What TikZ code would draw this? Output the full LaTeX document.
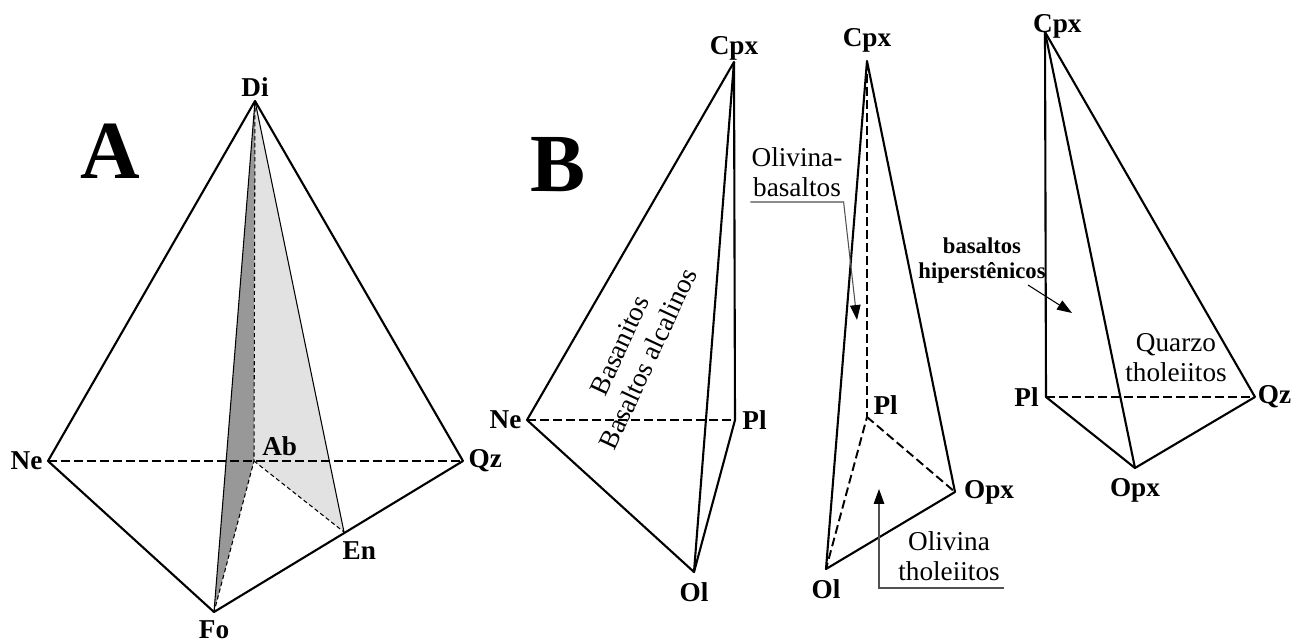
\documentclass[tikz,border=0pt]{standalone}
\usepackage{fontspec}
\setmainfont{Liberation Serif}
\usetikzlibrary{arrows.meta,positioning}
\definecolor{facedark}{HTML}{989898}
\definecolor{facelight}{HTML}{E2E2E2}
\definecolor{leadgrey}{HTML}{505050}

\begin{document}
\begin{tikzpicture}[
  x=0.02cm, y=-0.02cm,
  vlabel/.style={font=\fontsize{15.5}{17}\selectfont\bfseries, inner sep=0pt},
  rocknote/.style={font=\fontsize{15.5}{17}\selectfont, align=center, inner sep=0pt},
  boldnote/.style={font=\fontsize{12.9}{14.2}\selectfont\bfseries, align=center, inner sep=0pt},
  panelletter/.style={font=\fontsize{47}{50}\selectfont\bfseries, inner sep=0pt, anchor=base},
  ridge/.style={line width=1.2pt, line join=round},
  hiddenridge/.style={line width=1.1pt, dash pattern=on 5pt off 2.4pt},
  thinridge/.style={line width=0.6pt},
  thindash/.style={line width=0.6pt, dash pattern=on 2.4pt off 1.6pt},
  leader/.style={line width=0.6pt, leadgrey, -{Triangle[length=8.5pt, width=6pt, black]}}]
\useasboundingbox (0,0) rectangle (1296,643);

% A: Di-Ne-Qz-Fo
\coordinate (Di) at (255,101);
\coordinate (Ne) at (48,461);
\coordinate (Qz) at (463,461);
\coordinate (Ab) at (254,461);
\coordinate (Fo) at (214,612);
\coordinate (En) at (344,532);
\fill[facedark] (Di) -- (Ab) -- (Fo) -- cycle;
\fill[facelight] (Di) -- (Ab) -- (En) -- cycle;
\draw[thindash] (Di) -- (Ab) -- (Fo);
\draw[thindash] (Ab) -- (En);
\draw[thinridge] (Di) -- (Fo);
\draw[thinridge] (Di) -- (En);
\draw[hiddenridge] (Ne) -- (Qz);
\draw[ridge] (Ne) -- (Di) -- (Qz) -- (Fo) -- cycle;
\node[panelletter] (pA) at (110,178) {A};
\node[vlabel, above=2.5pt of Di] (lDi) {Di};
\node[vlabel, left=3pt of Ne] (lNe) {Ne};
\node[vlabel, right=3pt of Qz] (lQz) {Qz};
\node[vlabel, above right=3pt and 4.5pt of Ab] (lAb) {Ab};
\node[vlabel, below right=5.5pt and -1pt of En] (lEn) {En};
\node[vlabel, below=5pt of Fo] (lFo) {Fo};

% B: Cpx-Ne-Pl-Ol
\coordinate (bCpx) at (734,62);
\coordinate (bNe) at (527,420);
\coordinate (bPl) at (735,420);
\coordinate (bOl) at (694,572);
\draw[hiddenridge] (bNe) -- (bPl);
\draw[ridge] (bCpx) -- (bNe) -- (bOl) -- (bPl) -- cycle;
\draw[ridge] (bCpx) -- (bOl);
\node[panelletter] (pB) at (558,191) {B};
\node[vlabel, above=1pt of bCpx] (lbCpx) {Cpx};
\node[vlabel, left=3pt of bNe] (lbNe) {Ne};
\node[vlabel, right=4pt of bPl] (lbPl) {Pl};
\node[vlabel, below=6pt of bOl] (lbOl) {Ol};
\node[rocknote, rotate=65] (alk) at (634,352) {Basanitos\\[1pt]Basaltos alcalinos};

% Cpx-Pl-Ol-Opx
\coordinate (cCpx) at (867,61);
\coordinate (cPl) at (867,417);
\coordinate (cOpx) at (955,492);
\coordinate (cOl) at (826,569);
\draw[hiddenridge] (cCpx) -- (cPl) -- (cOl);
\draw[hiddenridge] (cPl) -- (cOpx);
\draw[ridge] (cOl) -- (cCpx) -- (cOpx) -- cycle;
\node[vlabel, above=5pt of cCpx] (lcCpx) {Cpx};
\node[vlabel, above right=1pt and 3.5pt of cPl] (lcPl) {Pl};
\node[vlabel, right=5pt of cOpx] (lcOpx) {Opx};
\node[vlabel, below=6pt of cOl] (lcOl) {Ol};
\node[rocknote, inner xsep=0.5pt, inner ysep=3pt, anchor=south] (olb) at (797,202) {Olivina-\\basaltos};
\coordinate (olbTip) at (857,320);
\draw[leader] (olb.south west) -- (olb.south east) -- (olbTip);
\node[rocknote, inner xsep=2pt, inner ysep=4pt, anchor=south] (olt) at (949,588) {Olivina\\tholeiitos};
\coordinate (oltTip) at (879,489);
\draw[leader] (olt.south east) -| (oltTip);

% Cpx-Pl-Qz-Opx
\coordinate (dCpx) at (1045,32);
\coordinate (dPl) at (1046,397);
\coordinate (dQz) at (1255,397);
\coordinate (dOpx) at (1135,468);
\draw[hiddenridge] (dPl) -- (dQz);
\draw[ridge] (dCpx) -- (dPl) -- (dOpx) -- (dQz) -- cycle;
\draw[ridge] (dCpx) -- (dOpx);
\node[vlabel, anchor=base] (ldCpx) at ([xshift=7pt]dCpx) {Cpx};
\node[vlabel, left=4pt of dPl] (ldPl) {Pl};
\node[vlabel, right=1.5pt of dQz] (ldQz) {Qz};
\node[vlabel, below=5.5pt of dOpx] (ldOpx) {Opx};
\node[boldnote] (hyp) at (982,261) {basaltos\\hiperstênicos};
\coordinate (hypFrom) at (1028,285);
\coordinate (hypTip) at (1072,313);
\draw[leader, black] (hypFrom) -- (hypTip);
\node[rocknote] (qzt) at (1176,358) {Quarzo\\tholeiitos};
\end{tikzpicture}
\end{document}
